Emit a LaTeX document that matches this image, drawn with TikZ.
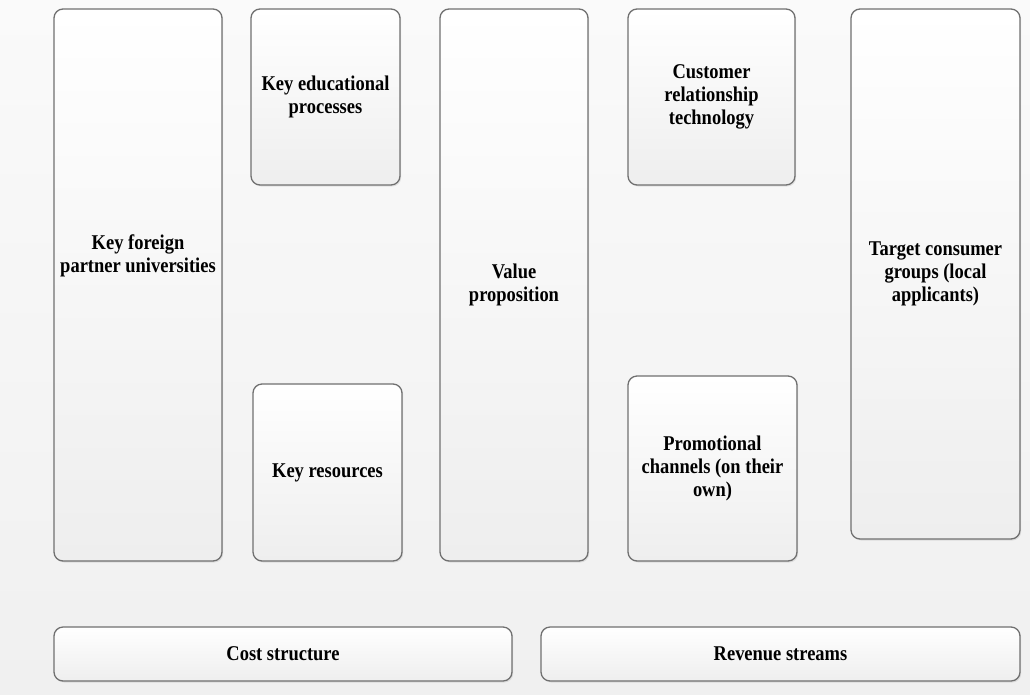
\documentclass[tikz,border=0pt]{standalone}
\usepackage{fontspec}
\setmainfont{Liberation Serif}[FakeStretch=0.88]
\usetikzlibrary{shadows}
\definecolor{framegray}{HTML}{707070}
\definecolor{pagetop}{HTML}{FAFAFA}
\definecolor{pagebot}{HTML}{F0F0F0}
\definecolor{boxbot}{HTML}{EEEEEE}
\tikzset{
  block/.style={draw=framegray, line width=1.3pt, rounded corners=9pt,
    top color=white, bottom color=boxbot, shading angle=0,
    drop shadow={shadow xshift=1.2pt, shadow yshift=-1.5pt, opacity=0.18},
    inner sep=0pt, align=center,
    font=\fontsize{21}{23}\selectfont\bfseries},
  lbl/.style={align=center, inner sep=0pt,
    font=\fontsize{21}{23}\selectfont\bfseries}
}
\begin{document}
\begin{tikzpicture}[x=1pt,y=-1pt]
  % page background
  \shade[top color=pagetop, bottom color=pagebot] (0,0) rectangle (1030,694);
  \useasboundingbox (0,0) rectangle (1030,694);

  % partner column (label sits above the middle)
  \node[block, minimum width=168, minimum height=552] (partners) at (138,285) {};
  \node[lbl] (partnerstxt) at (138,256) {Key foreign\\partner universities};

  \node[block, minimum width=149, minimum height=176] (processes) at (325.5,97)
    {Key educational\\processes};
  \node[block, minimum width=149, minimum height=177] (resources) at (327.5,472.5)
    {Key resources};
  \node[block, minimum width=148, minimum height=552] (value) at (514,285)
    {Value\\proposition};
  \node[block, minimum width=167, minimum height=176] (crm) at (711.5,97)
    {Customer\\relationship\\technology};
  \node[block, minimum width=169, minimum height=185] (channels) at (712.5,468.5)
    {Promotional\\channels (on their\\own)};
  \node[block, minimum width=169, minimum height=530] (segments) at (935.5,274)
    {Target consumer\\groups (local\\applicants)};

  % bottom row
  \node[block, minimum width=458, minimum height=54] (cost) at (283,654)
    {Cost structure};
  \node[block, minimum width=479, minimum height=54] (revenue) at (780.5,654)
    {Revenue streams};
\end{tikzpicture}
\end{document}
